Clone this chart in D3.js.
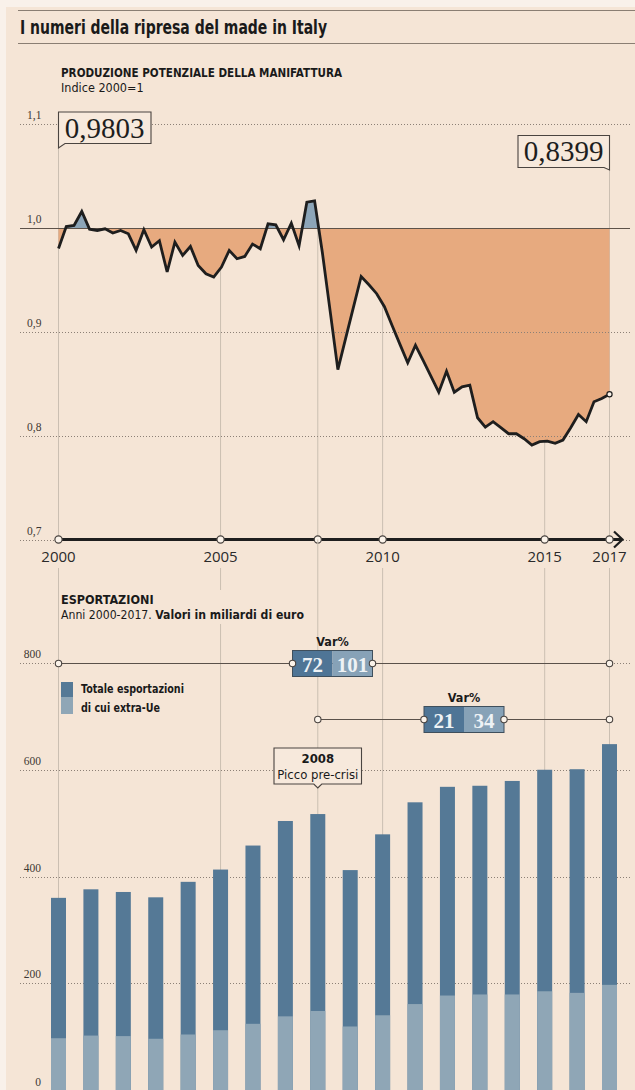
<!DOCTYPE html>
<html>
<head>
<meta charset="utf-8">
<script src="https://cdn.jsdelivr.net/npm/d3@7"></script>
<style>
  body { margin: 0; background: #f9f1ea; }
  svg { display: block; }
</style>
</head>
<body>
<div id="chart"></div>
<script>
// ---- data ----
var years = [2000, 2001, 2002, 2003, 2004, 2005, 2006, 2007, 2008,
  2009, 2010, 2011, 2012, 2013, 2014, 2015, 2016, 2017];
// produzione potenziale della manifattura, quarterly, indice 2000=1
var production = [
  0.9803, 1.0015, 1.0025, 1.016, 0.999, 0.9977, 0.9993, 0.9952,
  0.9977, 0.9945, 0.9785, 0.9984, 0.9817, 0.9878, 0.9577, 0.9865,
  0.9737, 0.9823, 0.964, 0.956, 0.9529, 0.9625, 0.9785, 0.9705,
  0.9727, 0.9846, 0.9801, 1.0041, 1.0032, 0.9888, 1.0048, 0.983,
  1.025, 1.0263, 0.9765, 0.9203, 0.8637, 0.8938, 0.9237, 0.9534,
  0.9454, 0.9368, 0.9243, 0.906, 0.888, 0.8702, 0.8871, 0.8724,
  0.8571, 0.8419, 0.8621, 0.8419, 0.8471, 0.8487, 0.8173, 0.8083,
  0.8135, 0.8077, 0.8019, 0.8019, 0.7971, 0.791, 0.7942, 0.7948,
  0.7926, 0.7958, 0.8077, 0.8205, 0.8135, 0.8327, 0.8359, 0.8399
];
var totalExports = [360, 376, 371, 361, 390, 413, 458, 504, 517,
  412, 479, 539, 568, 570, 579, 600, 601, 648];
var extraUe = [97, 102, 101, 96, 104, 112, 124, 138, 148,
  119, 140, 161, 177, 179, 179, 185, 182, 197];
var prodTicks = [0.7, 0.8, 0.9, 1.0, 1.1];
var prodTickLabels = ["0,7", "0,8", "0,9", "1,0", "1,1"];
var expTicks = [0, 200, 400, 600, 800];
var axisYears = [2000, 2005, 2010, 2015, 2017];
var markYears = [2000, 2005, 2008, 2010, 2015, 2017];
var varTotal = ["72", "21"];
var varExtra = ["101", "34"];
var varFrom = [2000, 2008];

// ---- setup ----
var W = 635, H = 1090;
var bg = "#f5e5d6", ink = "#1e1e1e", grid = "#8c8076", vline = "#cbbfb2";
var dark = "#557996", light = "#8fa6b6";
var condensed = "'Liberation Sans Narrow', 'DejaVu Sans Condensed', sans-serif";
var serif = "'Liberation Serif', 'DejaVu Serif', serif";

var svg = d3.select("#chart").append("svg")
  .attr("width", W)
  .attr("height", H);

svg.append("rect")
  .attr("x", 6).attr("y", 7)
  .attr("width", W - 6).attr("height", H - 7)
  .attr("fill", bg);

// narrow label helper: squeeze text to the width it has in the print layout
function narrowText(xp, yp, size, bold, width, str) {
  return svg.append("text")
    .attr("x", xp).attr("y", yp)
    .attr("textLength", width)
    .attr("lengthAdjust", "spacingAndGlyphs")
    .style("font-family", condensed)
    .style("font-weight", bold ? "bold" : "normal")
    .style("font-size", size + "px")
    .attr("fill", "#1a1a1a")
    .text(str);
}

// title + rules
svg.append("line").attr("x1", 18).attr("x2", W).attr("y1", 10.5).attr("y2", 10.5)
  .attr("stroke", "#8a7e73");
svg.append("line").attr("x1", 18).attr("x2", W).attr("y1", 43.5).attr("y2", 43.5)
  .attr("stroke", "#8a7e73");
narrowText(20, 34, 20, true, 307, "I numeri della ripresa del made in Italy");

// scales
var x = d3.scaleLinear().domain([2000, 2017]).range([58.5, 609.5]);
var yP = d3.scaleLinear().domain([0.7, 1.1]).range([539.5, 124.3]);
var yE = d3.scaleLinear().domain([0, 800]).range([1090, 663]);

// quarter index -> fractional year (first point on 2000, last on 2017)
function qYear(i) { return 2000 + i * 17 / (production.length - 1); }

// ================= top chart =================
narrowText(61, 77, 12.5, true, 281, "PRODUZIONE POTENZIALE DELLA MANIFATTURA");
svg.append("text")
  .attr("x", 61).attr("y", 92)
  .style("font-family", condensed).style("font-size", "12.5px")
  .attr("fill", "#1a1a1a")
  .text("Indice 2000=1");

// vertical year lines
var vTop = { 2000: 148, 2005: yP(1), 2008: yP(1), 2010: yP(1), 2015: yP(1), 2017: 170 };
svg.append("g").selectAll("line")
  .data(markYears)
  .enter().append("line")
  .attr("x1", function (d) { return x(d); })
  .attr("x2", function (d) { return x(d); })
  .attr("y1", function (d) { return vTop[d]; })
  .attr("y2", yP(0.7))
  .attr("stroke", vline);

// areas between curve and 1.0
var area = d3.area()
  .x(function (d, i) { return x(qYear(i)); })
  .y0(yP(1))
  .y1(function (d) { return yP(d); });

var defs = svg.append("defs");
defs.append("clipPath").attr("id", "above")
  .append("rect").attr("x", 0).attr("y", 0).attr("width", W).attr("height", yP(1));
defs.append("clipPath").attr("id", "below")
  .append("rect").attr("x", 0).attr("y", yP(1)).attr("width", W).attr("height", H);

svg.append("path").datum(production)
  .attr("d", area)
  .attr("fill", "#8ca5b8")
  .attr("clip-path", "url(#above)");
svg.append("path").datum(production)
  .attr("d", area)
  .attr("fill", "#e7aa7f")
  .attr("clip-path", "url(#below)");

// dotted gridlines + labels
var gP = svg.append("g");
gP.selectAll("line")
  .data(prodTicks.filter(function (d) { return d !== 1.0; }))
  .enter().append("line")
  .attr("x1", 20).attr("x2", 630)
  .attr("y1", function (d) { return Math.round(yP(d)) + 0.5; })
  .attr("y2", function (d) { return Math.round(yP(d)) + 0.5; })
  .attr("stroke", grid)
  .attr("stroke-dasharray", "1,2");
gP.append("line")
  .attr("x1", 20).attr("x2", 630)
  .attr("y1", Math.round(yP(1)) + 0.5).attr("y2", Math.round(yP(1)) + 0.5)
  .attr("stroke", "#5d5249");
gP.selectAll("text")
  .data(prodTicks)
  .enter().append("text")
  .attr("x", 27)
  .attr("y", function (d) { return yP(d) - 5; })
  .style("font-family", serif).style("font-size", "11.5px")
  .attr("fill", "#3e3833")
  .text(function (d, i) { return prodTickLabels[i]; });

// production line
var line = d3.line()
  .x(function (d, i) { return x(qYear(i)); })
  .y(function (d) { return yP(d); });
svg.append("path").datum(production)
  .attr("d", line)
  .attr("fill", "none")
  .attr("stroke", ink)
  .attr("stroke-width", 2.8)
  .attr("stroke-linejoin", "miter");

var last = production.length - 1;
svg.append("circle")
  .attr("cx", x(qYear(last))).attr("cy", yP(production[last]))
  .attr("r", 2.6)
  .attr("fill", "#fbf3ea").attr("stroke", ink).attr("stroke-width", 1.2);

// x axis with arrow
svg.append("line")
  .attr("x1", x(2000)).attr("x2", 622)
  .attr("y1", yP(0.7)).attr("y2", yP(0.7))
  .attr("stroke", ink).attr("stroke-width", 3);
svg.append("path")
  .attr("d", "M614," + (yP(0.7) - 8) + " L622.5," + yP(0.7) + " L614," + (yP(0.7) + 8))
  .attr("fill", "none").attr("stroke", ink).attr("stroke-width", 2.2);
svg.append("g").selectAll("circle")
  .data(markYears)
  .enter().append("circle")
  .attr("cx", function (d) { return x(d); })
  .attr("cy", yP(0.7))
  .attr("r", 3.6)
  .attr("fill", "#fbf3ea").attr("stroke", "#4a4440").attr("stroke-width", 1.2);
svg.append("g").selectAll("text")
  .data(axisYears)
  .enter().append("text")
  .attr("x", function (d) { return x(d); })
  .attr("y", 562)
  .attr("text-anchor", "middle")
  .style("font-family", "'Open Sans', sans-serif").style("font-size", "15px")
  .attr("fill", "#2a2a2a")
  .text(function (d) { return d; });

// callouts 0,9803 and 0,8399
function callout(pathD, tx, ty, label) {
  svg.append("path").attr("d", pathD)
    .attr("fill", "#f7e9dc").attr("stroke", "#4a4440").attr("stroke-width", 1.1);
  svg.append("text")
    .attr("x", tx).attr("y", ty)
    .attr("text-anchor", "middle")
    .style("font-family", serif).style("font-size", "29px")
    .attr("fill", "#1e1e1e")
    .text(label);
}
callout("M58.5,112 H151 V143.5 H65 L58.5,148 Z", 104.5, 138, "0,9803");
callout("M518,135.5 H609.5 V170 L604,167.5 H518 Z", 563.5, 161, "0,8399");

// ================= bottom chart =================
var bandW = 15;

// vertical year lines
svg.append("g").selectAll("line")
  .data(markYears)
  .enter().append("line")
  .attr("x1", function (d) { return x(d); })
  .attr("x2", function (d) { return x(d); })
  .attr("y1", function (d) { return d === 2008 ? yP(0.7) : 568; })
  .attr("y2", H)
  .attr("stroke", vline);

// subtitle (with background so the 2005 line breaks)
svg.append("rect").attr("x", 60).attr("y", 590).attr("width", 246).attr("height", 34)
  .attr("fill", bg);
svg.append("text")
  .attr("x", 61).attr("y", 604)
  .style("font-family", condensed).style("font-weight", "bold").style("font-size", "12.5px")
  .attr("fill", "#1a1a1a")
  .text("ESPORTAZIONI");
var sub = svg.append("text")
  .attr("x", 61).attr("y", 619)
  .attr("textLength", 243)
  .attr("lengthAdjust", "spacingAndGlyphs")
  .style("font-family", condensed).style("font-size", "12.5px")
  .attr("fill", "#1a1a1a");
sub.append("tspan").text("Anni 2000-2017. ");
sub.append("tspan").style("font-weight", "bold").text("Valori in miliardi di euro");

// gridlines
var gE = svg.append("g");
gE.selectAll("line")
  .data(expTicks.filter(function (d) { return d > 0; }))
  .enter().append("line")
  .attr("x1", 20).attr("x2", 630)
  .attr("y1", function (d) { return Math.round(yE(d)) + 0.5; })
  .attr("y2", function (d) { return Math.round(yE(d)) + 0.5; })
  .attr("stroke", grid)
  .attr("stroke-dasharray", "1,2");
gE.selectAll("text")
  .data(expTicks)
  .enter().append("text")
  .attr("x", 41)
  .attr("y", function (d) { return d === 0 ? yE(d) - 4 : yE(d) - 5; })
  .attr("text-anchor", "end")
  .style("font-family", serif).style("font-size", "11.5px")
  .attr("fill", "#3e3833")
  .text(function (d) { return d; });

// bars
var bars = svg.append("g");
bars.selectAll(".tot")
  .data(totalExports)
  .enter().append("rect")
  .attr("class", "tot")
  .attr("x", function (d, i) { return x(years[i]) - bandW / 2; })
  .attr("y", function (d) { return yE(d); })
  .attr("width", bandW)
  .attr("height", function (d) { return yE(0) - yE(d); })
  .attr("fill", dark);
bars.selectAll(".ext")
  .data(extraUe)
  .enter().append("rect")
  .attr("class", "ext")
  .attr("x", function (d, i) { return x(years[i]) - bandW / 2; })
  .attr("y", function (d) { return yE(d); })
  .attr("width", bandW)
  .attr("height", function (d) { return yE(0) - yE(d); })
  .attr("fill", light);

// legend
svg.append("rect").attr("x", 61).attr("y", 682).attr("width", 12).attr("height", 15).attr("fill", dark);
svg.append("rect").attr("x", 61).attr("y", 697).attr("width", 12).attr("height", 17).attr("fill", light);
narrowText(81, 693, 13, true, 103, "Totale esportazioni");
narrowText(81, 712, 13, true, 79, "di cui extra-Ue");

// Var% ranges
var varY = [yE(800), 719];
var varBoxX = [292.5, 424];
varFrom.forEach(function (from, k) {
  var y0 = Math.round(varY[k]) + 0.5;
  var bx = varBoxX[k], bw = 80, bh = 26;
  svg.append("line")
    .attr("x1", x(from)).attr("x2", x(2017))
    .attr("y1", y0).attr("y2", y0)
    .attr("stroke", "#5a514a").attr("stroke-width", 1.1);
  svg.append("rect").attr("x", bx).attr("y", y0 - 13).attr("width", bw / 2).attr("height", bh)
    .attr("fill", "#4f7596");
  svg.append("rect").attr("x", bx + bw / 2).attr("y", y0 - 13).attr("width", bw / 2).attr("height", bh)
    .attr("fill", "#87a2b7");
  svg.append("rect").attr("x", bx).attr("y", y0 - 13).attr("width", bw).attr("height", bh)
    .attr("fill", "none").attr("stroke", "#3f4f5c").attr("stroke-width", 1);
  svg.append("text").attr("x", bx + bw / 4).attr("y", y0 + 8)
    .attr("text-anchor", "middle")
    .style("font-family", serif).style("font-weight", "bold").style("font-size", "21px")
    .attr("fill", "#eef2f5").text(varTotal[k]);
  svg.append("text").attr("x", bx + bw * 3 / 4).attr("y", y0 + 8)
    .attr("text-anchor", "middle")
    .style("font-family", serif).style("font-weight", "bold").style("font-size", "21px")
    .attr("fill", "#eef2f5").text(varExtra[k]);
  svg.append("text").attr("x", bx + bw / 2).attr("y", y0 - 18)
    .attr("text-anchor", "middle")
    .style("font-family", condensed).style("font-weight", "bold").style("font-size", "12.5px")
    .attr("fill", "#1a1a1a").text("Var%");
  svg.append("g").selectAll("circle")
    .data([x(from), bx, bx + bw, x(2017)])
    .enter().append("circle")
    .attr("cx", function (d) { return d; })
    .attr("cy", y0)
    .attr("r", 3.2)
    .attr("fill", "#fbf3ea").attr("stroke", "#4a4440").attr("stroke-width", 1.1);
});

// 2008 callout
var cx08 = x(2008);
svg.append("path")
  .attr("d", "M274,748 H361.5 V784 H" + (cx08 + 4) + " L" + cx08 + ",788 L" + (cx08 - 4) + ",784 H274 Z")
  .attr("fill", "#f7e9dc").attr("stroke", "#4a4440").attr("stroke-width", 1.1);
svg.append("text").attr("x", cx08).attr("y", 763)
  .attr("text-anchor", "middle")
  .style("font-family", condensed).style("font-weight", "bold").style("font-size", "13px")
  .attr("fill", "#1a1a1a").text("2008");
svg.append("text").attr("x", cx08).attr("y", 779)
  .attr("text-anchor", "middle")
  .style("font-family", condensed).style("font-size", "13px")
  .attr("fill", "#1a1a1a").text("Picco pre-crisi");
</script>
</body>
</html>
